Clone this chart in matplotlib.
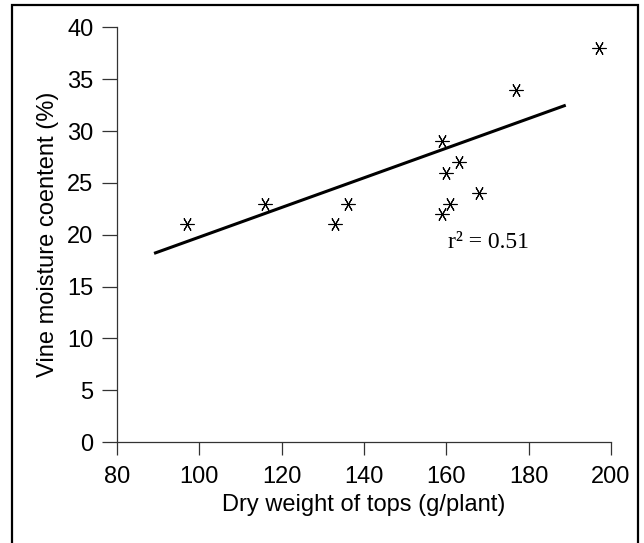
import matplotlib
matplotlib.use("Agg")
import matplotlib.pyplot as plt
from matplotlib.patches import Rectangle

# dry weight of tops (g/plant) vs vine moisture content (%)
dry_weight = [97, 116, 133, 136, 159, 159, 160, 161, 163, 168, 177, 197]
moisture = [21, 23, 21, 23, 29, 22, 26, 23, 27, 24, 34, 38]

# regression line as drawn in the figure
fit_x = [89, 189]
fit_y = [18.2, 32.5]

x_ticks = [80, 100, 120, 140, 160, 180, 200]
y_ticks = [0, 5, 10, 15, 20, 25, 30, 35, 40]

plt.rcParams["font.family"] = ["Liberation Sans", "DejaVu Sans"]

fig = plt.figure(figsize=(6.44, 5.43), dpi=100)
ax = fig.add_axes([0.1817, 0.186, 0.7671, 0.7634])

ax.plot(fit_x, fit_y, color="black", lw=2.2, solid_capstyle="butt")
ax.plot(dry_weight, moisture, ls="none", marker=(6, 2, 90), markersize=10,
        markeredgecolor="black", markeredgewidth=0.8, color="black")

ax.text(160.4, 18.7, "r\u00b2 = 0.51", family="Liberation Serif", fontsize=17,
        ha="left", va="baseline")

ax.set_xlim(80, 200)
ax.set_ylim(0, 40)
ax.set_xticks(x_ticks)
ax.set_yticks(y_ticks)
for side in ["top", "right"]:
    ax.spines[side].set_visible(False)
for side in ["left", "bottom"]:
    ax.spines[side].set_linewidth(0.9)
    ax.spines[side].set_color("#333333")
ax.tick_params(axis="y", direction="out", length=11, width=0.9, pad=6, labelsize=17, colors="#333333", labelcolor="black")
ax.tick_params(axis="x", direction="out", length=9.5, width=0.9, pad=8, labelsize=17, colors="#333333", labelcolor="black")

ax.set_xlabel("Dry weight of tops (g/plant)", fontsize=17, labelpad=4)
ax.set_ylabel("Vine moisture coentent (%)", fontsize=17, labelpad=6)

# frame around the whole figure
fig.patches.append(Rectangle((0.0186, -0.01), 0.972, 1.0, transform=fig.transFigure,
                             fill=False, edgecolor="black", lw=1.6, clip_on=False))

fig.savefig("out.png", dpi=100)
